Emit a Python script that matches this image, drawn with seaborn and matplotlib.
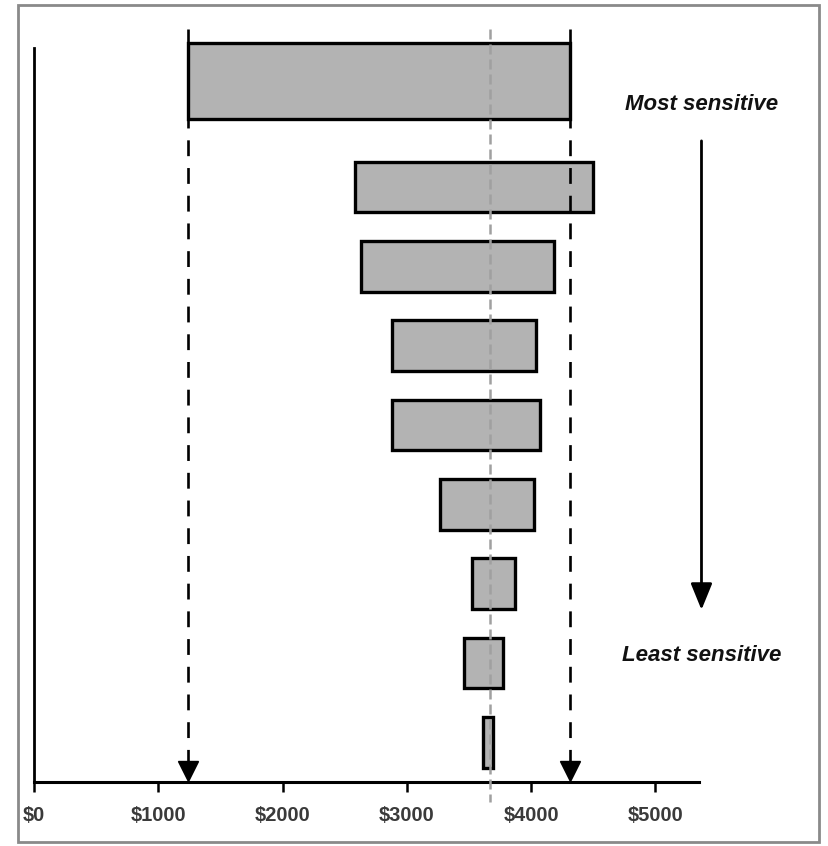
import numpy as np
import pandas as pd
import seaborn as sns
import matplotlib.pyplot as plt
from matplotlib.patches import Rectangle

# tornado data, most sensitive first ($)
low_vals = [1240, 2580, 2630, 2880, 2880, 3270, 3520, 3460, 3610]
high_vals = [4310, 4500, 4180, 4040, 4070, 4020, 3870, 3770, 3690]
base_val = 3670
tick_vals = [0, 1000, 2000, 3000, 4000, 5000]
tick_labels = ['$0', '$1000', '$2000', '$3000', '$4000', '$5000']

data = pd.DataFrame({'low': low_vals, 'high': high_vals})
data['width'] = data['high'] - data['low']
# row positions: the top bar sits a bit higher and is thicker
data['pos'] = np.arange(len(data), dtype=float)
data.loc[0, 'pos'] = -0.33
data['height'] = 0.64
data.loc[0, 'height'] = 0.96

sns.set_theme(style="white")
plt.rcParams['font.family'] = ['Liberation Sans', 'DejaVu Sans']

fig = plt.figure(figsize=(8.29, 8.46), dpi=100)
ax = fig.add_axes([34/829, 64/846, 665/829, 753/846])

ax.barh(data['pos'], data['width'], left=data['low'], height=data['height'],
        color='#b3b3b3', edgecolor='black', linewidth=2.4, zorder=2)

#dashed lines for the range of the top bar with arrowheads on the axis
for xv in [low_vals[0], high_vals[0]]:
    ax.plot([xv, xv], [-0.99, 8.3], color='black', linestyle=(0, (6, 4.5)), linewidth=1.9, zorder=3)
    ax.plot([xv], [8.36], marker='v', markersize=14, color='black', zorder=4, clip_on=False)
#base case line
ax.plot([base_val, base_val], [-0.99, 8.75], color='#a0a0a0', linestyle=(0, (4, 2)),
        linewidth=1.8, zorder=3, clip_on=False)

ax.set_xlim(0, 5350)
ax.set_ylim(8.5, -0.99)

for s in ['top', 'right']:
    ax.spines[s].set_visible(False)
ax.spines['left'].set_bounds(8.5, -0.75)
ax.spines['left'].set_linewidth(2)
ax.spines['bottom'].set_linewidth(2.2)
ax.spines['left'].set_color('black')
ax.spines['bottom'].set_color('black')

ax.set_yticks([])
ax.set_xticks(tick_vals)
ax.set_xticklabels(tick_labels, fontsize=14.5, fontweight='bold', color='#3a3a3a')
ax.tick_params(axis='x', direction='out', length=7, width=1.8, color='black', pad=10, bottom=True)

#sensitivity arrow and labels
ax.annotate('', xy=(5370, 6.33), xytext=(5370, 0.42), xycoords='data',
            arrowprops=dict(arrowstyle='-|>,head_width=0.55,head_length=1.35', color='black',
                            linewidth=2, shrinkA=0, shrinkB=0),
            annotation_clip=False)
ax.text(5370, -0.04, 'Most sensitive', ha='center', va='center', fontsize=16,
        fontweight='bold', fontstyle='italic', color='#111111', clip_on=False)
ax.text(5375, 6.9, 'Least sensitive', ha='center', va='center', fontsize=16,
        fontweight='bold', fontstyle='italic', color='#111111', clip_on=False)

#outer frame
fig.patches.append(Rectangle((18/829, 4/846), 801/829, 837/846, transform=fig.transFigure,
                             fill=False, edgecolor='#8a8a8a', linewidth=2))

fig.savefig('out.png', dpi=100)
